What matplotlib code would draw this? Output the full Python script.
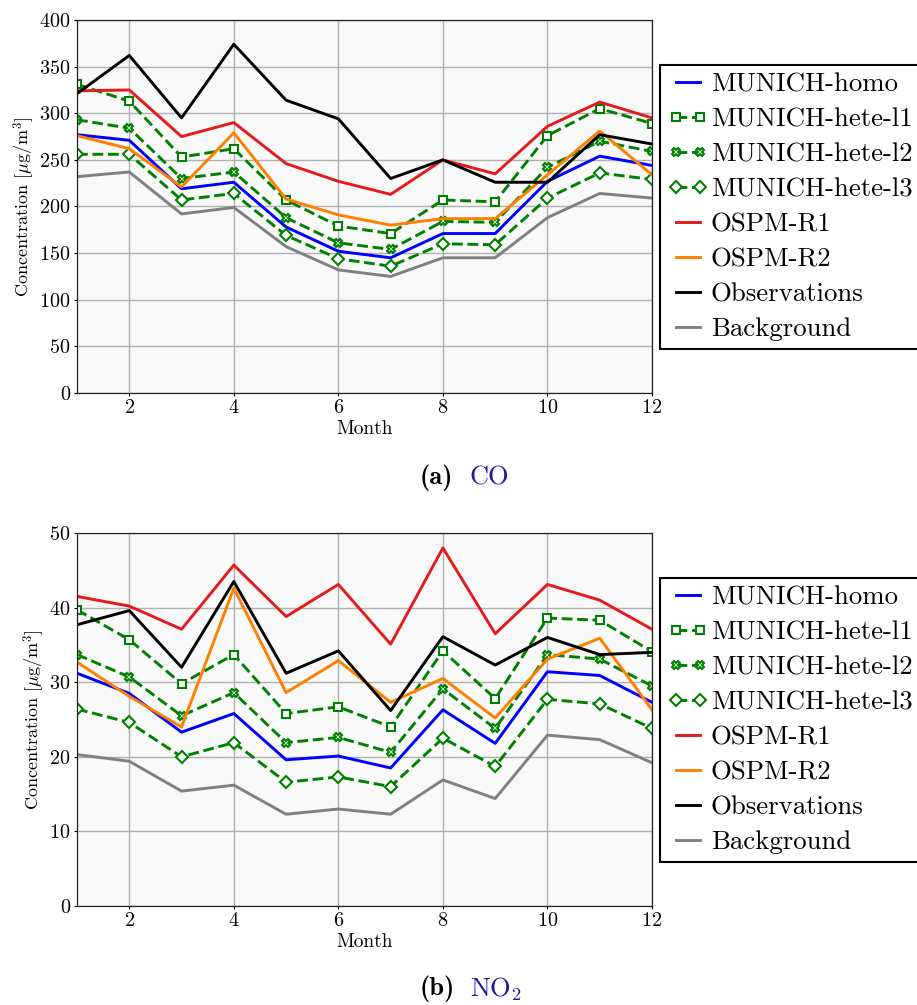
import matplotlib
matplotlib.use("Agg")
import matplotlib.pyplot as plt

plt.rcParams['font.family'] = ['cmr10', 'DejaVu Serif']
plt.rcParams['mathtext.fontset'] = 'cm'
plt.rcParams['axes.formatter.use_mathtext'] = True

months = list(range(1, 13))
series_names = ["MUNICH-homo", "MUNICH-hete-l1", "MUNICH-hete-l2", "MUNICH-hete-l3",
                "OSPM-R1", "OSPM-R2", "Observations", "Background"]

# CO [µg/m3]
co_homo = [277, 271, 219, 226, 178, 152, 145, 171, 171, 227, 254, 244]
co_l1 = [331, 313, 253, 262, 207, 179, 171, 207, 205, 276, 305, 289]
co_l2 = [293, 284, 230, 237, 188, 161, 154, 184, 183, 242, 270, 259]
co_l3 = [256, 256, 207, 214, 169, 144, 136, 160, 159, 209, 236, 229]
co_r1 = [324, 325, 275, 290, 246, 227, 213, 250, 235, 286, 312, 295]
co_r2 = [276, 262, 221, 279, 208, 191, 180, 187, 187, 234, 281, 234]
co_obs = [321, 362, 295, 374, 314, 294, 230, 250, 226, 226, 277, 267]
co_bg = [232, 237, 192, 199, 157, 132, 125, 145, 145, 188, 214, 209]

# NO2 [µg/m3]
no2_homo = [31.2, 28.5, 23.3, 25.8, 19.6, 20.1, 18.5, 26.3, 21.8, 31.4, 30.9, 27.3]
no2_l1 = [39.7, 35.7, 29.8, 33.7, 25.8, 26.7, 24.0, 34.2, 27.8, 38.6, 38.3, 34.1]
no2_l2 = [33.7, 30.7, 25.5, 28.6, 21.9, 22.6, 20.6, 29.1, 23.8, 33.7, 33.1, 29.5]
no2_l3 = [26.4, 24.6, 20.0, 21.9, 16.6, 17.3, 16.0, 22.5, 18.7, 27.7, 27.1, 23.8]
no2_r1 = [41.5, 40.2, 37.1, 45.7, 38.8, 43.1, 35.1, 48.0, 36.5, 43.1, 41.0, 37.1]
no2_r2 = [32.7, 28.1, 24.0, 42.6, 28.6, 32.9, 27.3, 30.5, 25.2, 33.1, 35.9, 26.3]
no2_obs = [37.7, 39.6, 32.0, 43.5, 31.2, 34.2, 26.2, 36.1, 32.3, 36.0, 33.7, 34.0]
no2_bg = [20.3, 19.4, 15.4, 16.2, 12.3, 13.0, 12.3, 16.9, 14.4, 22.9, 22.3, 19.2]

co_data = [co_homo, co_l1, co_l2, co_l3, co_r1, co_r2, co_obs, co_bg]
no2_data = [no2_homo, no2_l1, no2_l2, no2_l3, no2_r1, no2_r2, no2_obs, no2_bg]

green = '#008000'
styles = [
    dict(color='#0000ff', ls='-'),
    dict(color=green, ls='--', marker='s', mfc='white', mec=green),
    dict(color=green, ls='--', marker='X', mfc='white', mec=green),
    dict(color=green, ls='--', marker='D', mfc='white', mec=green),
    dict(color='#e41a1c', ls='-'),
    dict(color='#ff7f00', ls='-'),
    dict(color='black', ls='-'),
    dict(color='#808080', ls='-'),
]

W, H = 917, 1005
fig = plt.figure(figsize=(W / 100, H / 100), dpi=100)


def make_axes(top_px, bottom_px, data, ylim, yticks, legend_top_px, caption_y_px, caption):
    ax = fig.add_axes([77 / W, 1 - bottom_px / H, (652 - 77) / W, (bottom_px - top_px) / H])
    ax.set_facecolor('#f9f9f9')
    for name, vals, st in zip(series_names, data, styles):
        ax.plot(months, vals, label=name, lw=2.1, ms=6, mew=1.5, **st)
    ax.set_xlim(1, 12)
    ax.set_ylim(*ylim)
    ax.set_yticks(yticks)
    ax.set_xticks([2, 4, 6, 8, 10, 12])
    ax.grid(True, color='#b0b0b0', lw=1.0)
    ax.set_axisbelow(True)
    ax.tick_params(direction='out', length=2.5, width=0.8, labelsize=14.5, pad=2)
    for s in ax.spines.values():
        s.set_linewidth(0.9)
        s.set_color('#222222')
    ax.set_xlabel('Month', fontsize=14, labelpad=2)
    ax.set_ylabel(r'Concentration [$\mu$g/m$^3$]', fontsize=13, labelpad=2)
    leg = fig.legend(*ax.get_legend_handles_labels(), loc='upper left',
                     bbox_to_anchor=(660 / W, 1 - legend_top_px / H), borderaxespad=0,
                     fontsize=19.3, numpoints=2, handlelength=1.5, handletextpad=0.12,
                     labelspacing=0.42, fancybox=False, edgecolor='black', framealpha=1,
                     borderpad=0.28)
    leg.get_frame().set_linewidth(1.5)
    fig.text(420 / W, 1 - caption_y_px / H, caption[0], fontsize=19,
             family='cmb10', ha='left', va='center')
    fig.text(470 / W, 1 - caption_y_px / H, caption[1], fontsize=19,
             color='#1a1a99', ha='left', va='center')
    return ax


make_axes(20, 393, co_data, (0, 400), range(0, 401, 50), 65, 478, ('(a)', 'CO'))
make_axes(533, 906, no2_data, (0, 50), range(0, 51, 10), 578, 989, ('(b)', r'NO$_2$'))

fig.savefig('out.png', dpi=100)
